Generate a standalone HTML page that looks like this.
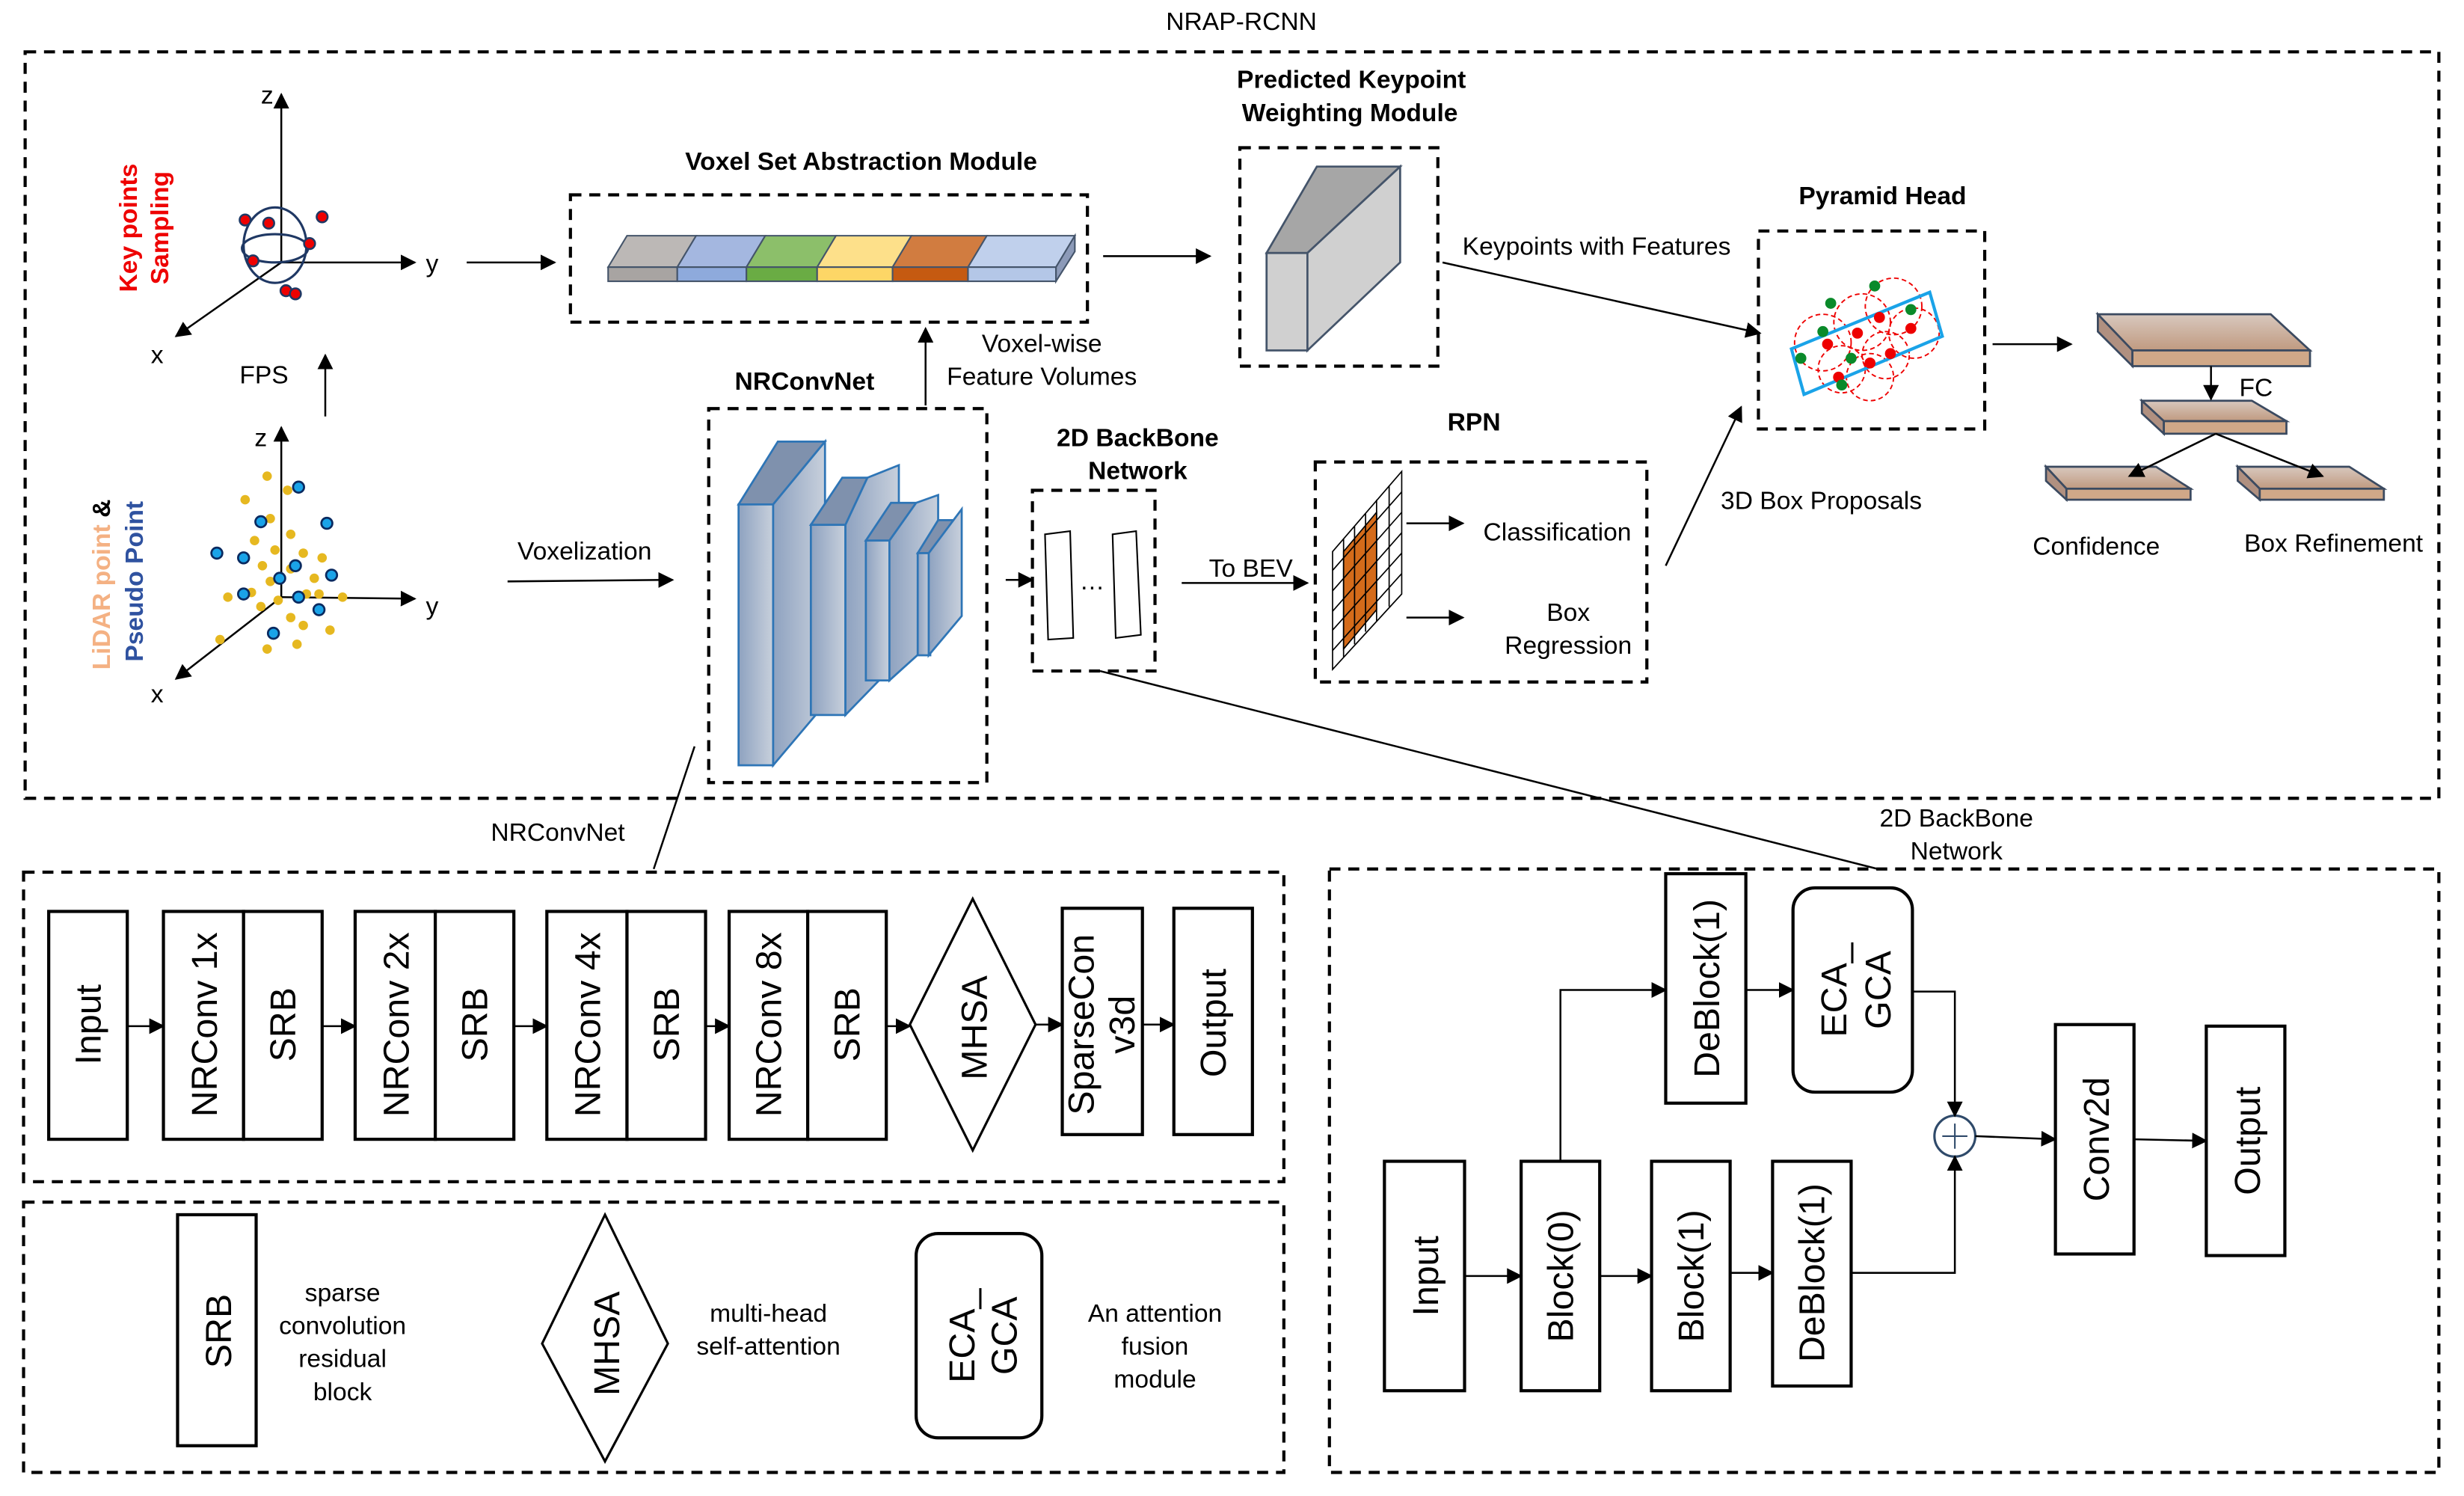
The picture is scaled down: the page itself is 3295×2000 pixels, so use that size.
<!DOCTYPE html>
<html><head><meta charset="utf-8"><style>
html,body{margin:0;padding:0;background:#fff;}
svg{display:block;}
text{font-family:"Liberation Sans",sans-serif;fill:#000;}
.b{font-weight:bold;font-size:16px;}
.t{font-size:16px;}
.big{font-size:23px;}
.d{fill:none;stroke:#000;stroke-width:2;stroke-dasharray:7 5;}
.l{stroke:#000;stroke-width:1.2;fill:none;}
.r{fill:#fff;stroke:#000;stroke-width:2;}
</style></head><body>
<svg width="3295" height="2000" viewBox="0 0 1568 952" preserveAspectRatio="none" xmlns="http://www.w3.org/2000/svg">
<defs>
<marker id="a" markerWidth="10" markerHeight="10" refX="9" refY="5" orient="auto" markerUnits="userSpaceOnUse"><path d="M0,0 L10,5 L0,10 z" fill="#000"/></marker>
<linearGradient id="bl" x1="0" x2="1"><stop offset="0" stop-color="#8ea2c0"/><stop offset="1" stop-color="#c8d0dc"/></linearGradient>
<linearGradient id="br" x1="0" y1="0" x2="0" y2="1"><stop offset="0" stop-color="#d8c8be"/><stop offset="1" stop-color="#c09a80"/></linearGradient>
</defs>
<text x="790" y="19" text-anchor="middle" class="t">NRAP-RCNN</text>
<rect x="16" y="33" width="1536" height="475" class="d"/>
<rect x="15" y="555" width="802" height="197" class="d"/>
<rect x="15" y="765" width="802" height="172" class="d"/>
<rect x="846" y="553" width="706" height="384" class="d"/>

<!-- axes 1 -->
<line x1="179" y1="167" x2="179" y2="60" class="l" marker-end="url(#a)"/>
<line x1="179" y1="167" x2="264" y2="167" class="l" marker-end="url(#a)"/>
<line x1="179" y1="167" x2="112" y2="214" class="l" marker-end="url(#a)"/>
<text x="166" y="66" class="t">z</text><text x="271" y="173" class="t">y</text><text x="96" y="231" class="t">x</text>
<ellipse cx="175" cy="156" rx="20" ry="24" fill="none" stroke="#1f3864" stroke-width="1.5"/>
<ellipse cx="175" cy="158" rx="21" ry="9" fill="none" stroke="#1f3864" stroke-width="1.5"/>
<g fill="#e00" stroke="#1f3864" stroke-width="1.2">
<circle cx="156" cy="140" r="3.5"/><circle cx="171" cy="142" r="3.5"/><circle cx="205" cy="138" r="3.5"/><circle cx="197" cy="155" r="3.5"/><circle cx="161" cy="166" r="3.5"/><circle cx="182" cy="185" r="3.5"/><circle cx="188" cy="187" r="3.5"/></g>
<text transform="translate(87,145) rotate(-90)" text-anchor="middle" class="b" fill="#e00" style="fill:#e00">Key points</text>
<text transform="translate(107,145) rotate(-90)" text-anchor="middle" class="b" style="fill:#e00">Sampling</text>
<text x="168" y="244" text-anchor="middle" class="t">FPS</text>
<line x1="207" y1="265" x2="207" y2="226" class="l" marker-end="url(#a)"/>

<!-- axes 2 -->
<line x1="179" y1="380" x2="179" y2="272" class="l" marker-end="url(#a)"/>
<line x1="179" y1="380" x2="264" y2="381" class="l" marker-end="url(#a)"/>
<line x1="179" y1="380" x2="112" y2="432" class="l" marker-end="url(#a)"/>
<text x="162" y="284" class="t">z</text><text x="271" y="391" class="t">y</text><text x="96" y="447" class="t">x</text>
<g fill="#e6b820">
<circle cx="170" cy="303" r="3"/><circle cx="156" cy="318" r="3"/><circle cx="183" cy="312" r="3"/><circle cx="172" cy="330" r="3"/><circle cx="185" cy="340" r="3"/><circle cx="162" cy="344" r="3"/><circle cx="175" cy="350" r="3"/><circle cx="193" cy="352" r="3"/><circle cx="205" cy="355" r="3"/><circle cx="167" cy="360" r="3"/><circle cx="185" cy="362" r="3"/><circle cx="200" cy="368" r="3"/><circle cx="172" cy="370" r="3"/><circle cx="160" cy="377" r="3"/><circle cx="177" cy="382" r="3"/><circle cx="195" cy="378" r="3"/><circle cx="203" cy="378" r="3"/><circle cx="218" cy="380" r="3"/><circle cx="145" cy="380" r="3"/><circle cx="166" cy="386" r="3"/><circle cx="185" cy="393" r="3"/><circle cx="193" cy="398" r="3"/><circle cx="210" cy="401" r="3"/><circle cx="170" cy="413" r="3"/><circle cx="189" cy="410" r="3"/><circle cx="140" cy="407" r="3"/></g>
<g fill="#1aa3e8" stroke="#0a2a60" stroke-width="1.3">
<circle cx="190" cy="310" r="3.5"/><circle cx="166" cy="332" r="3.5"/><circle cx="208" cy="333" r="3.5"/><circle cx="138" cy="352" r="3.5"/><circle cx="155" cy="355" r="3.5"/><circle cx="188" cy="360" r="3.5"/><circle cx="178" cy="368" r="3.5"/><circle cx="211" cy="366" r="3.5"/><circle cx="155" cy="378" r="3.5"/><circle cx="190" cy="380" r="3.5"/><circle cx="203" cy="388" r="3.5"/><circle cx="174" cy="403" r="3.5"/></g>
<text transform="translate(70,372) rotate(-90)" text-anchor="middle" class="b" style="fill:#f4b183">LiDAR point <tspan style="fill:#000">&amp;</tspan></text>
<text transform="translate(91,370) rotate(-90)" text-anchor="middle" class="b" style="fill:#2f52a0">Pseudo Point</text>

<line x1="297" y1="167" x2="353" y2="167" class="l" marker-end="url(#a)"/>
<text x="548" y="108" text-anchor="middle" class="b">Voxel Set Abstraction Module</text>
<rect x="363" y="124" width="329" height="81" class="d"/>
<!-- bar -->
<g stroke="#44546a" stroke-width="1">
<polygon points="387,170 399,150 443,150 431,170" fill="#bcb8b6"/><rect x="387" y="170" width="44" height="9" fill="#a8a4a2"/>
<polygon points="431,170 443,150 487,150 475,170" fill="#a4b7e0"/><rect x="431" y="170" width="44" height="9" fill="#8eaadc"/>
<polygon points="475,170 487,150 532,150 520,170" fill="#8cbf6a"/><rect x="475" y="170" width="45" height="9" fill="#6aac44"/>
<polygon points="520,170 532,150 580,150 568,170" fill="#fde08a"/><rect x="520" y="170" width="48" height="9" fill="#fdd666"/>
<polygon points="568,170 580,150 628,150 616,170" fill="#d17c40"/><rect x="568" y="170" width="48" height="9" fill="#c55a11"/>
<polygon points="616,170 628,150 684,150 672,170" fill="#c0d0ec"/><rect x="616" y="170" width="56" height="9" fill="#b4c7e7"/>
<polygon points="672,170 684,150 684,160 672,179" fill="#8c9ab8"/></g>
<line x1="702" y1="163" x2="770" y2="163" class="l" marker-end="url(#a)"/>
<text x="860" y="56" text-anchor="middle" class="b">Predicted Keypoint</text>
<text x="859" y="77" text-anchor="middle" class="b">Weighting Module</text>
<rect x="789" y="94" width="126" height="139" class="d"/>
<g stroke="#44546a" stroke-width="1.3"><polygon points="806,161 838,106 891,106 832,161" fill="#a6a6a6"/><rect x="806" y="161" width="26" height="62" fill="#d0d0d0"/><polygon points="832,161 891,106 891,167 832,223" fill="#d0d0d0"/></g>
<text x="1016" y="162" text-anchor="middle" class="t">Keypoints with Features</text>
<line x1="918" y1="167" x2="1120" y2="212" class="l" marker-end="url(#a)"/>
<text x="1198" y="130" text-anchor="middle" class="b">Pyramid Head</text>
<rect x="1119" y="147" width="144" height="126" class="d"/>
<g fill="none" stroke="#e00" stroke-width="0.9" stroke-dasharray="3 2">
<circle cx="1160" cy="218" r="18"/><circle cx="1185" cy="205" r="18"/><circle cx="1205" cy="195" r="18"/><circle cx="1172" cy="235" r="15"/><circle cx="1200" cy="226" r="15"/><circle cx="1218" cy="212" r="16"/><circle cx="1190" cy="240" r="15"/></g>
<polygon points="1140,222 1228,186 1236,214 1148,251" fill="none" stroke="#1aa3e8" stroke-width="2"/>
<g fill="#e00"><circle cx="1163" cy="219" r="3.5"/><circle cx="1182" cy="212" r="3.5"/><circle cx="1196" cy="202" r="3.5"/><circle cx="1203" cy="225" r="3.5"/><circle cx="1190" cy="231" r="3.5"/><circle cx="1170" cy="240" r="3.5"/><circle cx="1216" cy="209" r="3.5"/></g>
<g fill="#0a8a2a"><circle cx="1193" cy="182" r="3.5"/><circle cx="1165" cy="193" r="3.5"/><circle cx="1216" cy="197" r="3.5"/><circle cx="1160" cy="211" r="3.5"/><circle cx="1178" cy="228" r="3.5"/><circle cx="1146" cy="228" r="3.5"/><circle cx="1172" cy="245" r="3.5"/></g>
<line x1="1268" y1="219" x2="1318" y2="219" class="l" marker-end="url(#a)"/>
<g stroke="#3b4a60" stroke-width="1.3" fill="url(#br)">
<polygon points="1335,200 1445,200 1470,223 1357,223"/><polygon points="1335,200 1357,223 1357,233 1335,211" fill="#b09080"/><rect x="1357" y="223" width="113" height="10" fill="#d0a888"/>
<polygon points="1363,255 1433,255 1455,268 1377,268"/><polygon points="1363,255 1377,268 1377,276 1363,263" fill="#b09080"/><rect x="1377" y="268" width="78" height="8" fill="#d0a888"/>
<polygon points="1302,297 1372,297 1394,311 1315,311"/><polygon points="1302,297 1315,311 1315,318 1302,306" fill="#b09080"/><rect x="1315" y="311" width="79" height="7" fill="#d0a888"/>
<polygon points="1424,297 1495,297 1517,311 1438,311"/><polygon points="1424,297 1438,311 1438,318 1424,306" fill="#b09080"/><rect x="1438" y="311" width="79" height="7" fill="#d0a888"/>
</g>
<line x1="1407" y1="233" x2="1407" y2="254" class="l" marker-end="url(#a)"/>
<text x="1425" y="252" class="t">FC</text>
<line x1="1410" y1="276" x2="1355" y2="303" class="l" marker-end="url(#a)"/>
<line x1="1410" y1="276" x2="1478" y2="303" class="l" marker-end="url(#a)"/>
<text x="1334" y="353" text-anchor="middle" class="t">Confidence</text>
<text x="1485" y="351" text-anchor="middle" class="t">Box Refinement</text>

<line x1="589" y1="258" x2="589" y2="209" class="l" marker-end="url(#a)"/>
<text x="663" y="224" text-anchor="middle" class="t">Voxel-wise</text>
<text x="663" y="245" text-anchor="middle" class="t">Feature Volumes</text>
<text x="512" y="248" text-anchor="middle" class="b">NRConvNet</text>
<rect x="451" y="260" width="177" height="238" class="d"/>
<g stroke="#2e75b6" stroke-width="1.3">
<polygon points="470,321 495,281 525,281 492,321" fill="#7f91ad"/><rect x="470" y="321" width="22" height="166" fill="url(#bl)"/><polygon points="492,321 525,281 525,448 492,487" fill="url(#bl)"/>
<polygon points="516,334 536,304 552,304 538,334" fill="#7f91ad"/><rect x="516" y="334" width="22" height="121" fill="url(#bl)"/><polygon points="538,334 552,304 572,296 572,420 538,455" fill="url(#bl)"/>
<polygon points="551,344 567,320 583,320 566,344" fill="#7f91ad"/><rect x="551" y="344" width="15" height="89" fill="url(#bl)"/><polygon points="566,344 583,320 597,315 597,405 566,433" fill="url(#bl)"/>
<polygon points="584,352 597,331 610,331 591,352" fill="#7f91ad"/><rect x="584" y="352" width="8" height="65" fill="url(#bl)"/><polygon points="591,352 612,324 612,392 591,417" fill="url(#bl)"/>
</g>
<text x="372" y="356" text-anchor="middle" class="t">Voxelization</text>
<line x1="323" y1="370" x2="428" y2="369" class="l" marker-end="url(#a)"/>
<text x="724" y="284" text-anchor="middle" class="b">2D BackBone</text>
<text x="724" y="305" text-anchor="middle" class="b">Network</text>
<line x1="640" y1="369" x2="657" y2="369" class="l" marker-end="url(#a)"/>
<rect x="657" y="312" width="78" height="115" class="d"/>
<polygon points="665,340 681,338 683,406 667,407" fill="#fff" stroke="#000"/>
<polygon points="708,340 723,338 726,404 710,406" fill="#fff" stroke="#000"/>
<text x="695" y="375" text-anchor="middle" class="t">…</text>
<text x="796" y="367" text-anchor="middle" class="t">To BEV</text>
<line x1="752" y1="371" x2="832" y2="371" class="l" marker-end="url(#a)"/>
<text x="938" y="274" text-anchor="middle" class="b">RPN</text>
<rect x="837" y="294" width="211" height="140" class="d"/>
<g stroke="#000" stroke-width="0.8" fill="none">
<polygon points="848,351 892,300 892,378 848,426" fill="#fff"/>
<polygon points="855,351 876,326 876,388 855,413" fill="#d46b1a"/>
<line x1="855" y1="343" x2="855" y2="418"/><line x1="862" y1="335" x2="862" y2="410"/><line x1="869" y1="327" x2="869" y2="402"/><line x1="876" y1="318" x2="876" y2="395"/><line x1="884" y1="309" x2="884" y2="386"/>
<line x1="848" y1="363" x2="892" y2="313"/><line x1="848" y1="376" x2="892" y2="326"/><line x1="848" y1="389" x2="892" y2="339"/><line x1="848" y1="401" x2="892" y2="352"/><line x1="848" y1="414" x2="892" y2="365"/>
</g>
<line x1="895" y1="333" x2="931" y2="333" class="l" marker-end="url(#a)"/>
<line x1="895" y1="393" x2="931" y2="393" class="l" marker-end="url(#a)"/>
<text x="991" y="344" text-anchor="middle" class="t">Classification</text>
<text x="998" y="395" text-anchor="middle" class="t">Box</text>
<text x="998" y="416" text-anchor="middle" class="t">Regression</text>
<text x="1159" y="324" text-anchor="middle" class="t">3D Box Proposals</text>
<line x1="1060" y1="360" x2="1108" y2="259" class="l" marker-end="url(#a)"/>

<!-- connectors to lower panels -->
<line x1="442" y1="475" x2="416" y2="553" class="l"/>
<text x="355" y="535" text-anchor="middle" class="t">NRConvNet</text>
<line x1="700" y1="427" x2="1195" y2="553" class="l"/>
<text x="1245" y="526" text-anchor="middle" class="t">2D BackBone</text>
<text x="1245" y="547" text-anchor="middle" class="t">Network</text>

<!-- NRConvNet row -->
<g class="big">
<rect x="31" y="580" width="50" height="145" class="r"/><text transform="translate(64,652) rotate(-90)" text-anchor="middle" class="big">Input</text>
<rect x="104" y="580" width="51" height="145" class="r"/><rect x="155" y="580" width="50" height="145" class="r"/>
<text transform="translate(138,652) rotate(-90)" text-anchor="middle" class="big">NRConv 1x</text><text transform="translate(188,652) rotate(-90)" text-anchor="middle" class="big">SRB</text>
<rect x="226" y="580" width="51" height="145" class="r"/><rect x="277" y="580" width="50" height="145" class="r"/>
<text transform="translate(260,652) rotate(-90)" text-anchor="middle" class="big">NRConv 2x</text><text transform="translate(310,652) rotate(-90)" text-anchor="middle" class="big">SRB</text>
<rect x="348" y="580" width="51" height="145" class="r"/><rect x="399" y="580" width="50" height="145" class="r"/>
<text transform="translate(382,652) rotate(-90)" text-anchor="middle" class="big">NRConv 4x</text><text transform="translate(432,652) rotate(-90)" text-anchor="middle" class="big">SRB</text>
<rect x="464" y="580" width="50" height="145" class="r"/><rect x="514" y="580" width="50" height="145" class="r"/>
<text transform="translate(497,652) rotate(-90)" text-anchor="middle" class="big">NRConv 8x</text><text transform="translate(547,652) rotate(-90)" text-anchor="middle" class="big">SRB</text>
<polygon points="619,572 659,652 619,732 579,652" class="r" style="stroke-width:1.5"/><text transform="translate(628,654) rotate(-90)" text-anchor="middle" class="big">MHSA</text>
<rect x="676" y="578" width="51" height="144" class="r"/><text transform="translate(696,652) rotate(-90)" text-anchor="middle" class="big">SparseCon</text><text transform="translate(722,652) rotate(-90)" text-anchor="middle" class="big">v3d</text>
<rect x="747" y="578" width="50" height="144" class="r"/><text transform="translate(780,651) rotate(-90)" text-anchor="middle" class="big">Output</text>
</g>
<line x1="81" y1="653" x2="104" y2="653" class="l" marker-end="url(#a)"/>
<line x1="205" y1="653" x2="226" y2="653" class="l" marker-end="url(#a)"/>
<line x1="327" y1="653" x2="348" y2="653" class="l" marker-end="url(#a)"/>
<line x1="449" y1="653" x2="464" y2="653" class="l" marker-end="url(#a)"/>
<line x1="564" y1="653" x2="579" y2="653" class="l" marker-end="url(#a)"/>
<line x1="659" y1="652" x2="676" y2="652" class="l" marker-end="url(#a)"/>
<line x1="727" y1="652" x2="747" y2="652" class="l" marker-end="url(#a)"/>

<!-- legend -->
<rect x="113" y="773" width="50" height="147" class="r"/><text transform="translate(147,847) rotate(-90)" text-anchor="middle" class="big">SRB</text>
<g class="t" text-anchor="middle"><text x="218" y="828" class="t" text-anchor="middle">sparse</text><text x="218" y="849" class="t" text-anchor="middle">convolution</text><text x="218" y="870" class="t" text-anchor="middle">residual</text><text x="218" y="891" class="t" text-anchor="middle">block</text></g>
<polygon points="385,773 425,855 385,930 345,855" class="r" style="stroke-width:1.5"/><text transform="translate(394,855) rotate(-90)" text-anchor="middle" class="big">MHSA</text>
<text x="489" y="841" text-anchor="middle" class="t">multi-head</text><text x="489" y="862" text-anchor="middle" class="t">self-attention</text>
<rect x="583" y="785" width="80" height="130" rx="14" class="r"/><text transform="translate(620,850) rotate(-90)" text-anchor="middle" class="big">ECA_</text><text transform="translate(647,850) rotate(-90)" text-anchor="middle" class="big">GCA</text>
<text x="735" y="841" text-anchor="middle" class="t">An attention</text><text x="735" y="862" text-anchor="middle" class="t">fusion</text><text x="735" y="883" text-anchor="middle" class="t">module</text>

<!-- 2D backbone detail -->
<rect x="881" y="739" width="51" height="146" class="r"/><text transform="translate(915,812) rotate(-90)" text-anchor="middle" class="big">Input</text>
<rect x="968" y="739" width="50" height="146" class="r"/><text transform="translate(1001,812) rotate(-90)" text-anchor="middle" class="big">Block(0)</text>
<rect x="1051" y="739" width="50" height="146" class="r"/><text transform="translate(1084,812) rotate(-90)" text-anchor="middle" class="big">Block(1)</text>
<rect x="1128" y="739" width="50" height="143" class="r"/><text transform="translate(1161,810) rotate(-90)" text-anchor="middle" class="big">DeBlock(1)</text>
<rect x="1060" y="556" width="51" height="146" class="r"/><text transform="translate(1094,629) rotate(-90)" text-anchor="middle" class="big">DeBlock(1)</text>
<rect x="1141" y="565" width="76" height="130" rx="14" class="r"/><text transform="translate(1175,630) rotate(-90)" text-anchor="middle" class="big">ECA_</text><text transform="translate(1203,630) rotate(-90)" text-anchor="middle" class="big">GCA</text>
<rect x="1308" y="652" width="50" height="146" class="r"/><text transform="translate(1342,725) rotate(-90)" text-anchor="middle" class="big">Conv2d</text>
<rect x="1404" y="653" width="50" height="146" class="r"/><text transform="translate(1438,726) rotate(-90)" text-anchor="middle" class="big">Output</text>
<circle cx="1244" cy="723" r="13" fill="#fff" stroke="#2f4a6a" stroke-width="1.5"/>
<line x1="1236" y1="723" x2="1252" y2="723" stroke="#2f4a6a"/><line x1="1244" y1="715" x2="1244" y2="731" stroke="#2f4a6a"/>
<line x1="932" y1="812" x2="968" y2="812" class="l" marker-end="url(#a)"/>
<line x1="1018" y1="812" x2="1051" y2="812" class="l" marker-end="url(#a)"/>
<line x1="1101" y1="810" x2="1128" y2="810" class="l" marker-end="url(#a)"/>
<polyline points="993,739 993,630 1060,630" class="l" marker-end="url(#a)"/>
<line x1="1111" y1="630" x2="1141" y2="630" class="l" marker-end="url(#a)"/>
<polyline points="1217,631 1244,631 1244,710" class="l" marker-end="url(#a)"/>
<polyline points="1178,810 1244,810 1244,736" class="l" marker-end="url(#a)"/>
<line x1="1257" y1="723" x2="1308" y2="725" class="l" marker-end="url(#a)"/>
<line x1="1358" y1="725" x2="1404" y2="726" class="l" marker-end="url(#a)"/>
</svg>
</body></html>
